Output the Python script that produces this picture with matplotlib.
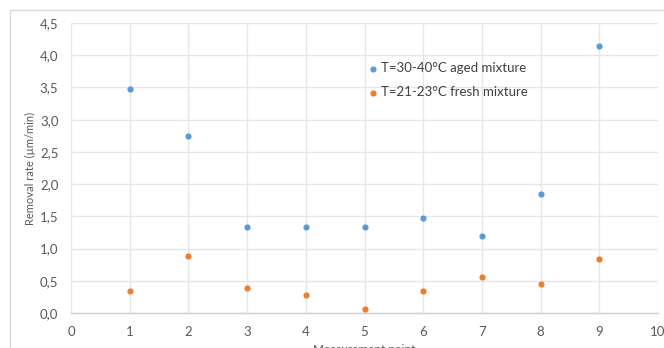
import matplotlib
matplotlib.use("Agg")
import matplotlib.pyplot as plt
from matplotlib.patches import Rectangle
from matplotlib.ticker import FuncFormatter, MultipleLocator

plt.rcParams['font.family'] = ['Lato', 'DejaVu Sans']

points = [1, 2, 3, 4, 5, 6, 7, 8, 9]
aged = [3.48, 2.74, 1.34, 1.34, 1.34, 1.48, 1.19, 1.85, 4.15]
fresh = [0.34, 0.89, 0.39, 0.28, 0.06, 0.34, 0.56, 0.45, 0.84]
label_aged = "T=30-40°C aged mixture"
label_fresh = "T=21-23°C fresh mixture"

W, H = 664, 348
fig = plt.figure(figsize=(W / 100, H / 100), dpi=100)
fig.patch.set_facecolor('white')

# chart border
fig.add_artist(Rectangle((9.5 / W, -0.1), 1.0, (H - 9.5) / H + 0.1, transform=fig.transFigure,
                         fill=False, edgecolor='#d9d9d9', linewidth=1.0))

left, right, top, bottom = 71, 658, 23, 313
ax = fig.add_axes([left / W, 1 - bottom / H, (right - left) / W, (bottom - top) / H])

blue = '#5B9BD5'
orange = '#ED7D31'
ax.scatter(points, aged, s=20, color=blue, label=label_aged, zorder=3, linewidths=0)
ax.scatter(points, fresh, s=20, color=orange, label=label_fresh, zorder=3, linewidths=0)

ax.set_xlim(0, 10)
ax.set_ylim(0, 4.5)
ax.xaxis.set_major_locator(MultipleLocator(1))
ax.yaxis.set_major_locator(MultipleLocator(0.5))
ax.yaxis.set_major_formatter(FuncFormatter(lambda v, p: f"{v:.1f}".replace('.', ',')))
ax.xaxis.set_major_formatter(FuncFormatter(lambda v, p: f"{int(round(v))}"))

ax.grid(True, color='#e6e6e6', linewidth=1.0, zorder=0)
ax.set_axisbelow(True)
for s in ['top', 'right', 'left']:
    ax.spines[s].set_visible(False)
ax.spines['bottom'].set_color('#d0d0d0')
ax.spines['bottom'].set_linewidth(1.0)
ax.tick_params(axis='both', length=0, labelsize=9.5, colors='#595959')
ax.tick_params(axis='y', pad=9)
ax.tick_params(axis='x', pad=9.5)

ax.set_ylabel("Removal rate (µm/min)", fontsize=8, color='#595959', labelpad=3)
ax.set_xlabel("Measurement point", fontsize=8.5, color='#595959', labelpad=4)

leg = ax.legend(loc='upper left', bbox_to_anchor=((361 - left) / (right - left), 1 - (57 - top) / (bottom - top)),
                frameon=False, fontsize=9.5, handletextpad=0.15, labelspacing=0.9,
                markerscale=1.0, borderaxespad=0, handlelength=1.0)
for t in leg.get_texts():
    t.set_color('#404040')

fig.savefig("out.png", dpi=100, facecolor='white')
